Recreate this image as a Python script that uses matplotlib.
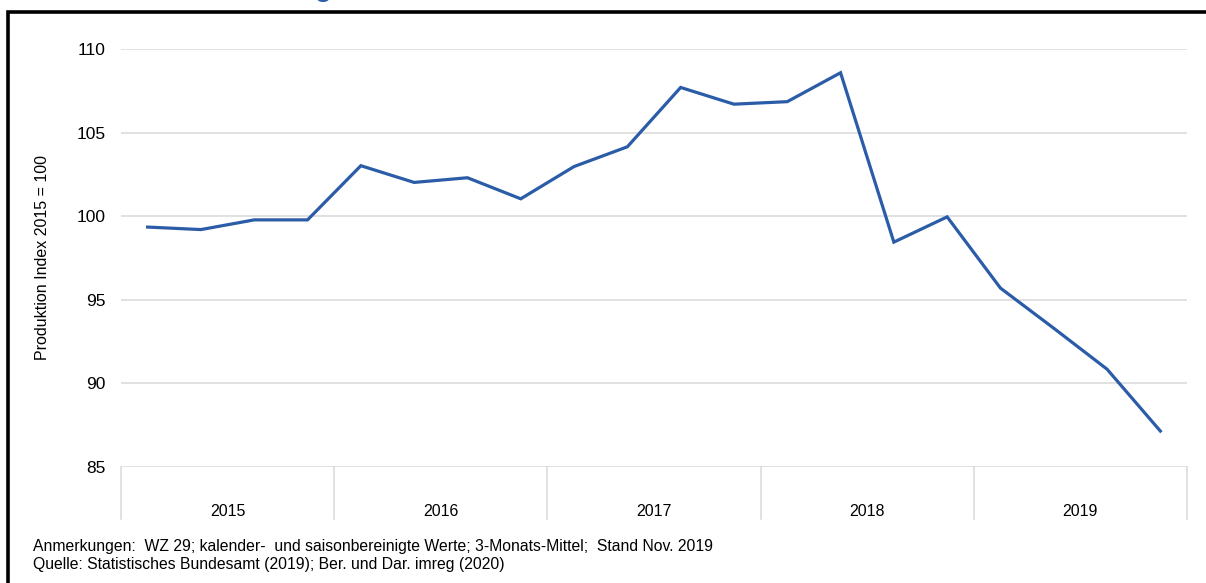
import numpy as np
import matplotlib.pyplot as plt
from matplotlib.patches import Rectangle
import matplotlib.transforms as mtransforms

# Quarterly production index (3-month average), 2015 Q1 - 2019 Q4
YEARS = ['2015', '2016', '2017', '2018', '2019']
QUARTERS_PER_YEAR = 4
VALUES = [99.35, 99.2, 99.78, 99.78,
          103.02, 102.02, 102.3, 101.04,
          102.97, 104.15, 107.7, 106.7,
          106.85, 108.58, 98.45, 99.96,
          95.7, 93.3, 90.85, 87.15]
Y_TICKS = [85, 90, 95, 100, 105, 110]

LINE_COLOR = '#2b5ca8'
GRID_COLOR = '#d9d9d9'
FONT = 'Liberation Sans'

W, H = 1206, 583


def main():
    plt.rcParams['font.family'] = [FONT, 'DejaVu Sans']
    fig = plt.figure(figsize=(W / 100, H / 100), dpi=100)

    # axes placed in pixel coordinates of the reference
    left, right, top, bottom = 121, 1187, 49, 467
    ax = fig.add_axes([left / W, 1 - bottom / H, (right - left) / W, (bottom - top) / H])

    x = np.arange(len(VALUES))
    ax.plot(x, VALUES, color=LINE_COLOR, linewidth=2.3, solid_joinstyle='miter')

    ax.set_xlim(-0.5, len(VALUES) - 0.5)
    ax.set_ylim(85, 110)
    ax.set_yticks(Y_TICKS)
    ax.set_yticklabels([str(t) for t in Y_TICKS], fontsize=12.5)
    ax.tick_params(axis='y', length=0, pad=11)
    ax.set_xticks([])
    ax.grid(axis='y', color=GRID_COLOR, linewidth=1.1)
    ax.set_axisbelow(True)
    for s in ax.spines.values():
        s.set_visible(False)

    ax.set_ylabel('Produktion Index 2015 = 100', fontsize=11.5, labelpad=19)

    # category axis: year separators and labels
    trans = mtransforms.blended_transform_factory(ax.transData, ax.transAxes)
    sep_depth = (519 - bottom) / (bottom - top)
    for i in range(len(YEARS) + 1):
        xs = i * QUARTERS_PER_YEAR - 0.5
        ax.plot([xs, xs], [0, -sep_depth], transform=trans, color=GRID_COLOR,
                linewidth=1.1, clip_on=False)
    for i, year in enumerate(YEARS):
        xc = i * QUARTERS_PER_YEAR + 1.5
        ax.text(xc, -(511 - bottom) / (bottom - top), year, transform=trans,
                ha='center', va='center', fontsize=11.5)

    # notes below
    fig.text(33 / W, 1 - 546 / H,
             'Anmerkungen:  WZ 29; kalender-  und saisonbereinigte Werte; 3-Monats-Mittel;  Stand Nov. 2019',
             fontsize=11.3, va='center', ha='left')
    fig.text(33 / W, 1 - 564 / H,
             'Quelle: Statistisches Bundesamt (2019); Ber. und Dar. imreg (2020)',
             fontsize=11.3, va='center', ha='left')

    # frame (left and top edges visible)
    fig.patches.append(Rectangle((8 / W, -0.1), 1.2, 1 - 12 / H + 0.1,
                                 transform=fig.transFigure, fill=False,
                                 edgecolor='black', linewidth=2.6))

    # cut-off title remnant
    fig.text(323 / W, 1 + 4 / H, 'g', color=LINE_COLOR, fontsize=20,
             fontweight='bold', ha='center', va='baseline')

    fig.savefig('out.png', dpi=100)


if __name__ == '__main__':
    main()
